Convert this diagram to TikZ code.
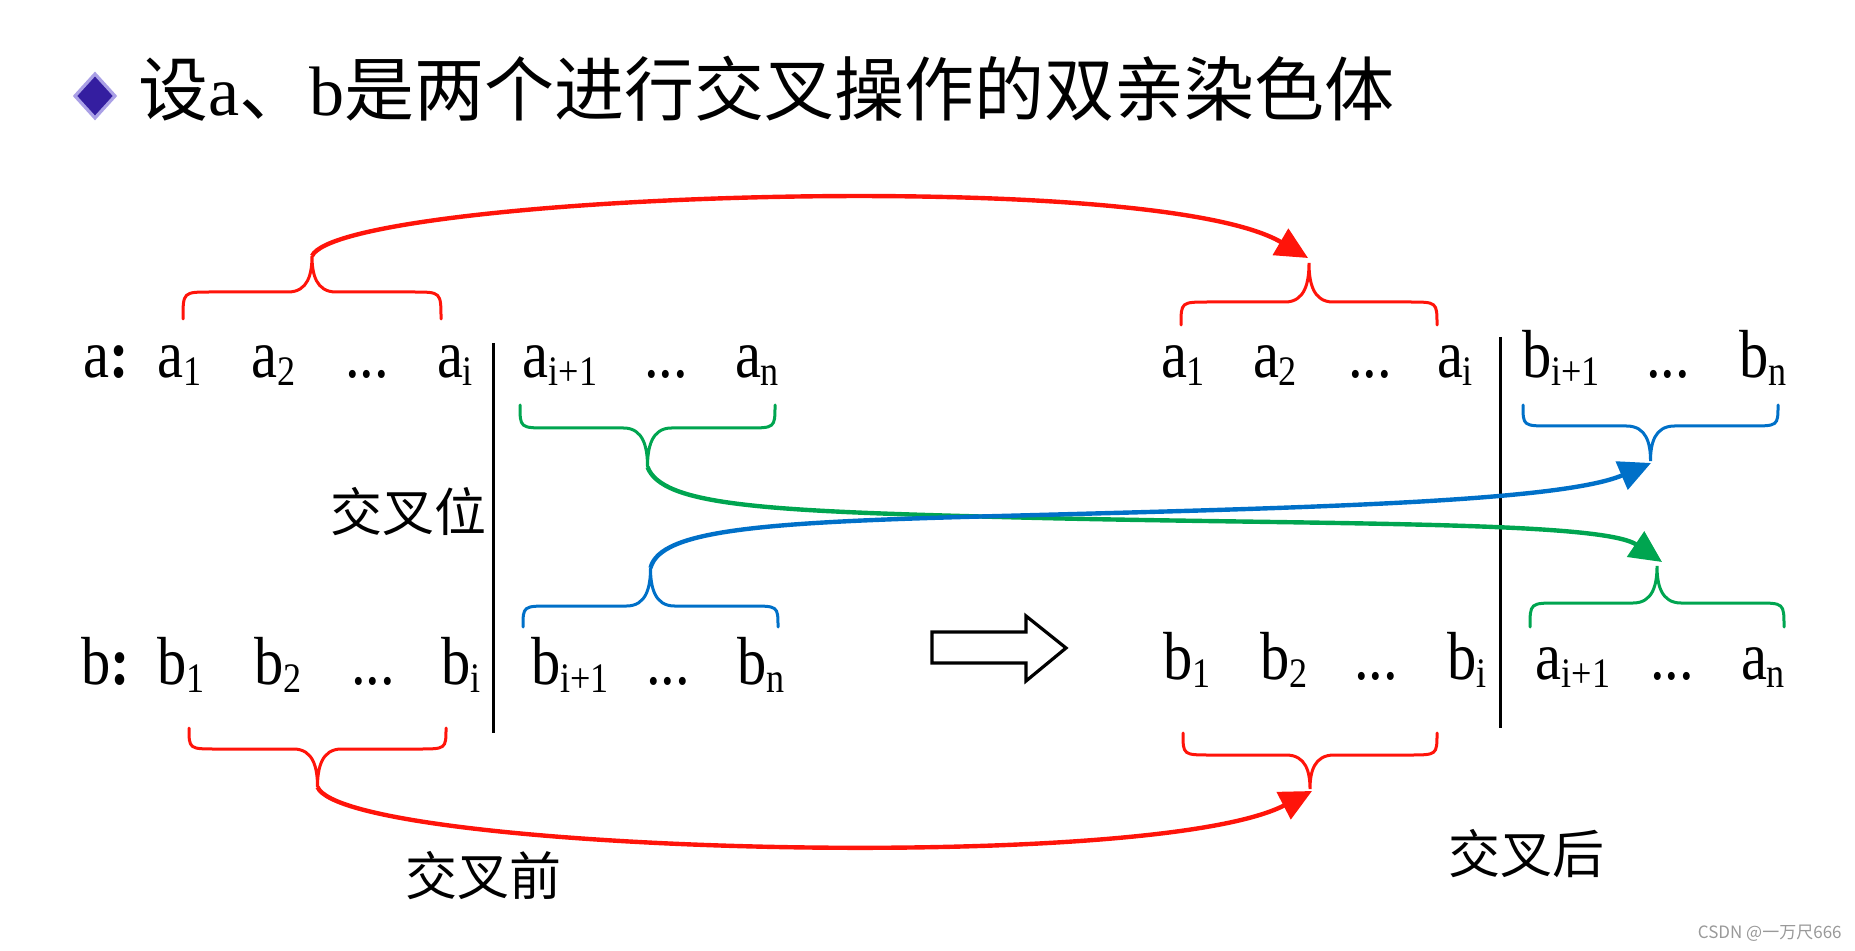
\documentclass[tikz,border=0pt]{standalone}
\usepackage{fontspec}
\setmainfont{Liberation Serif}
\newfontfamily\cond[FakeStretch=0.86]{Liberation Serif}
\newfontfamily\cjk{Noto Sans CJK SC}
\usetikzlibrary{arrows.meta}
\definecolor{myred}{RGB}{255,20,10}
\definecolor{mygreen}{RGB}{0,165,80}
\definecolor{myblue}{RGB}{0,112,200}
\definecolor{mypurple}{RGB}{52,30,160}
\definecolor{mylilac}{RGB}{170,160,230}
\newcommand\itm[2]{#1\raisebox{-4pt}{\fontsize{21}{21}\selectfont #2}}
\newcommand\brc[6]{%
  \draw[brc,#1] (#2,#4) .. controls (#2,#5) .. ({#2+28},#5)
    -- ({(#2+#3)/2-24},#5) .. controls ({(#2+#3)/2-4},#5) and ({(#2+#3)/2},{(#5+#6)/2}) .. ({(#2+#3)/2},#6)
    .. controls ({(#2+#3)/2},{(#5+#6)/2}) and ({(#2+#3)/2+4},#5) .. ({(#2+#3)/2+24},#5)
    -- ({#3-28},#5) .. controls (#3,#5) .. (#3,#4);}
\begin{document}
\begin{tikzpicture}[x=0.5pt,y=-0.5pt,
  lbl/.style={font=\cond\fontsize{34}{34}\selectfont, anchor=base, inner sep=0pt},
  cn/.style={font=\cjk\fontsize{26}{26}\selectfont, inner sep=0pt},
  brc/.style={line width=1.5pt, line cap=round},
  conn/.style={line width=2.2pt, -{Triangle[length=16pt,width=15pt]}},
  sep/.style={line width=1.5pt, black}]
\useasboundingbox (0,0) rectangle (1855,951);

% title
\coordinate (dN) at (95,74); \coordinate (dE) at (115,96);
\coordinate (dS) at (95,118); \coordinate (dW) at (75,96);
\draw[draw=mylilac, fill=mypurple, line width=1.6pt, line join=miter] (dN) -- (dE) -- (dS) -- (dW) -- cycle;
\node[anchor=west, inner sep=0pt, font=\cjk\fontsize{35}{35}\selectfont] (title) at (138,89)
  {设{\rmfamily a}、{\rmfamily b}是两个进行交叉操作的双亲染色体};

% left rows
\node[lbl] (la0) at (106,378) {a\textbf{:}};
\node[lbl] (la1) at (180,378) {\itm{a}{1}};
\node[lbl] (la2) at (274,378) {\itm{a}{2}};
\node[lbl] (la3) at (367,378) {...};
\node[lbl] (la4) at (455,378) {\itm{a}{i}};
\node[lbl] (la5) at (560,378) {\itm{a}{i+1}};
\node[lbl] (la6) at (666,378) {...};
\node[lbl] (la7) at (757,378) {\itm{a}{n}};

\node[lbl] (lb0) at (106,684) {b\textbf{:}};
\node[lbl] (lb1) at (181,684) {\itm{b}{1}};
\node[lbl] (lb2) at (278,684) {\itm{b}{2}};
\node[lbl] (lb3) at (373,684) {...};
\node[lbl] (lb4) at (461,684) {\itm{b}{i}};
\node[lbl] (lb5) at (570,684) {\itm{b}{i+1}};
\node[lbl] (lb6) at (668,684) {...};
\node[lbl] (lb7) at (761,684) {\itm{b}{n}};

% right rows
\node[lbl] (ra1) at (1183,378) {\itm{a}{1}};
\node[lbl] (ra2) at (1275,378) {\itm{a}{2}};
\node[lbl] (ra3) at (1370,378) {...};
\node[lbl] (ra4) at (1455,378) {\itm{a}{i}};
\node[lbl] (ra5) at (1561,378) {\itm{b}{i+1}};
\node[lbl] (ra6) at (1668,378) {...};
\node[lbl] (ra7) at (1763,378) {\itm{b}{n}};

\node[lbl] (rb1) at (1187,679) {\itm{b}{1}};
\node[lbl] (rb2) at (1284,679) {\itm{b}{2}};
\node[lbl] (rb3) at (1376,679) {...};
\node[lbl] (rb4) at (1467,679) {\itm{b}{i}};
\node[lbl] (rb5) at (1573,679) {\itm{a}{i+1}};
\node[lbl] (rb6) at (1672,679) {...};
\node[lbl] (rb7) at (1763,679) {\itm{a}{n}};

% separators
\coordinate (s1t) at (493,343); \coordinate (s1b) at (493,733);
\coordinate (s2t) at (1500,337); \coordinate (s2b) at (1500,728);
\draw[sep] (s1t) -- (s1b);
\draw[sep] (s2t) -- (s2b);

% labels
\node[cn] (pos) at (408,512) {交叉位};
\node[cn] (before) at (483,876) {交叉前};
\node[cn] (after) at (1526,854) {交叉后};

% braces
\brc{myred}{183}{441}{319}{292}{256}
\brc{myred}{1181}{1437}{325}{302}{263}
\brc{mygreen}{520}{775}{405}{428}{467}
\brc{myblue}{1523}{1778}{405}{426}{461}
\brc{myblue}{523}{778}{627}{606}{568}
\brc{mygreen}{1530}{1784}{627}{603}{566}
\brc{myred}{189}{446}{728}{749}{787}
\brc{myred}{1183}{1437}{733}{755}{789}

\coordinate (tTL) at (312,256);
\coordinate (tTR) at (1308,258);
\coordinate (tGL) at (647.5,467);
\coordinate (tGR) at (1662,562);
\coordinate (tBL) at (650.5,568);
\coordinate (tBR) at (1651,463);
\coordinate (tRBL) at (317.5,787);
\coordinate (tRBR) at (1312,791);

% connectors
\draw[conn, myred] (tTL) .. controls (340,195) and (1150,165) .. (tTR);
\draw[conn, myred] (tRBL) .. controls (345,852) and (1150,875) .. (tRBR);
\draw[conn, mygreen] (tGL) .. controls (662,505) and (760,511) .. (1000,517)
   .. controls (1300,525) and (1600,520) .. (tGR);
\draw[conn, myblue] (tBL) .. controls (660,530) and (760,522) .. (1000,516)
   .. controls (1300,508) and (1560,502) .. (tBR);

% hollow arrow
\draw[line width=1.6pt, line join=miter] (932,632) -- (1026,632) -- (1026,616) -- (1066,648)
  -- (1026,681) -- (1026,663) -- (932,663) -- cycle;

% watermark
\node[anchor=east, inner sep=0pt, text=gray!80, font=\cjk\fontsize{8.5}{8.5}\selectfont] (wm) at (1842,933) {CSDN @一万尺666};
\end{tikzpicture}
\end{document}
